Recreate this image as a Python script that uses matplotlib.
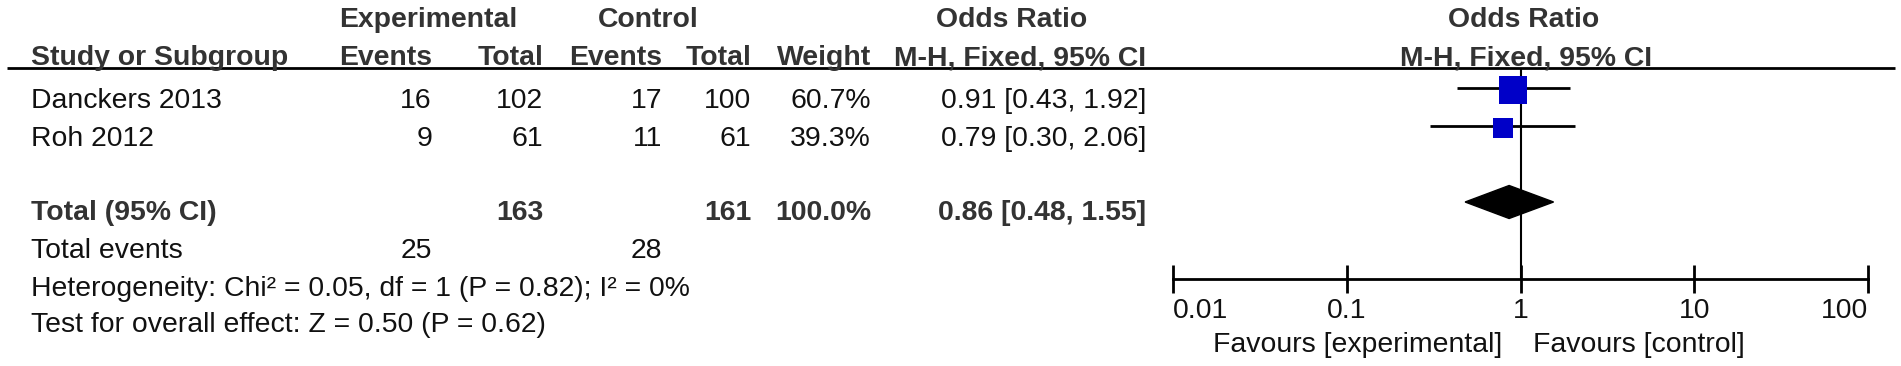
import matplotlib
matplotlib.use("Agg")
import matplotlib.pyplot as plt
from matplotlib.patches import Polygon

plt.rcParams['font.family'] = ['Liberation Sans', 'DejaVu Sans']

# Studien und Werte
studies = ['Danckers 2013', 'Roh 2012']
exp_events = [16, 9]
exp_total = [102, 61]
ctrl_events = [17, 11]
ctrl_total = [100, 61]
weights = [60.7, 39.3]
odds = [0.91, 0.79]
ci_low = [0.43, 0.30]
ci_high = [1.92, 2.06]

# Gepoolter Effekt
pooled_or = 0.86
pooled_low = 0.48
pooled_high = 1.55
sum_exp_total = 163
sum_ctrl_total = 161
sum_exp_events = 25
sum_ctrl_events = 28
het_text = 'Heterogeneity: Chi² = 0.05, df = 1 (P = 0.82); I² = 0%'
test_text = 'Test for overall effect: Z = 0.50 (P = 0.62)'

tick_vals = [0.01, 0.1, 1, 10, 100]
tick_labels = ['0.01', '0.1', '1', '10', '100']

W, H = 1901, 366
fig = plt.figure(figsize=(W / 100, H / 100), dpi=100)

# Tabelle (Pixel-Koordinaten)
tab = fig.add_axes([0, 0, 1, 1])
tab.set_xlim(0, W)
tab.set_ylim(H, 0)
tab.axis('off')

fs = 20.4
bold = dict(fontsize=fs, fontweight='bold', color='#333333', va='baseline')
reg = dict(fontsize=fs, color='#111111', va='baseline')

# Kopfzeilen
tab.text(428, 27, 'Experimental', ha='center', **bold)
tab.text(648, 27, 'Control', ha='center', **bold)
tab.text(1012, 27, 'Odds Ratio', ha='center', **bold)
tab.text(1524, 27, 'Odds Ratio', ha='center', **bold)

tab.text(31, 65, 'Study or Subgroup', ha='left', **bold)
col_x = [432, 543, 662, 751, 871]
for x, lab in zip(col_x, ['Events', 'Total', 'Events', 'Total', 'Weight']):
    tab.text(x, 65, lab, ha='right', **bold)
tab.text(1146, 65, 'M-H, Fixed, 95% CI', ha='right', **bold)
tab.text(1526, 65, 'M-H, Fixed, 95% CI', ha='center', **bold)
tab.hlines(68, 7, 1895, color='black', lw=2)

# Studienzeilen
row_base = [108, 146]
for i, s in enumerate(studies):
    y = row_base[i]
    tab.text(31, y, s, ha='left', **reg)
    vals = [exp_events[i], exp_total[i], ctrl_events[i], ctrl_total[i], f'{weights[i]:.1f}%']
    for x, v in zip(col_x, vals):
        tab.text(x, y, str(v), ha='right', **reg)
    tab.text(1146, y, f'{odds[i]:.2f} [{ci_low[i]:.2f}, {ci_high[i]:.2f}]', ha='right', **reg)

# Gesamtzeile
yt = 220
tab.text(31, yt, 'Total (95% CI)', ha='left', **bold)
tab.text(col_x[1], yt, str(sum_exp_total), ha='right', **bold)
tab.text(col_x[3], yt, str(sum_ctrl_total), ha='right', **bold)
tab.text(col_x[4], yt, f'{sum(weights):.1f}%', ha='right', **bold)
tab.text(1146, yt, f'{pooled_or:.2f} [{pooled_low:.2f}, {pooled_high:.2f}]', ha='right', **bold)

tab.text(31, 258, 'Total events', ha='left', **reg)
tab.text(col_x[0], 258, str(sum_exp_events), ha='right', **reg)
tab.text(col_x[2], 258, str(sum_ctrl_events), ha='right', **reg)
tab.text(31, 296, het_text, ha='left', **reg)
tab.text(31, 332, test_text, ha='left', **reg)

# Forest-Plot
ax_l, ax_r = 1173, 1868
fp = fig.add_axes([ax_l / W, 0, (ax_r - ax_l) / W, 1])
fp.set_xscale('log')
fp.set_xlim(0.01, 100)
fp.set_ylim(H, 0)
fp.patch.set_visible(False)
for side in ['top', 'left', 'right']:
    fp.spines[side].set_visible(False)
fp.spines['bottom'].set_position(('data', 279))
fp.spines['bottom'].set_linewidth(2)
fp.set_yticks([])
fp.set_xticks(tick_vals)
fp.set_xticklabels(tick_labels)
fp.xaxis.set_minor_locator(matplotlib.ticker.NullLocator())
fp.tick_params(axis='x', direction='inout', length=20, width=2, pad=4,
               labelsize=fs, labelcolor='#111111')
lbls = fp.get_xticklabels()
lbls[0].set_ha('left')
lbls[-1].set_ha('right')

fp.vlines(1, 68, 279, color='black', lw=1.5)

box_y = [90, 128]
for i in range(len(studies)):
    fp.hlines(box_y[i] - 2, ci_low[i], ci_high[i], color='black', lw=2)
    side_pt = 20.2 * (weights[i] / weights[0]) ** 0.75
    fp.plot(odds[i], box_y[i], marker='s', ms=side_pt, color='#0000c8',
            markeredgewidth=0, zorder=3)

yd = 202
fp.add_patch(Polygon([(pooled_low, yd), (pooled_or, yd - 16.5),
                      (pooled_high, yd), (pooled_or, yd + 16.5)],
                     closed=True, color='black', zorder=3))

tab.text(1502, 352, 'Favours [experimental]', ha='right', **reg)
tab.text(1533, 352, 'Favours [control]', ha='left', **reg)

fig.savefig('out.png', dpi=100)
